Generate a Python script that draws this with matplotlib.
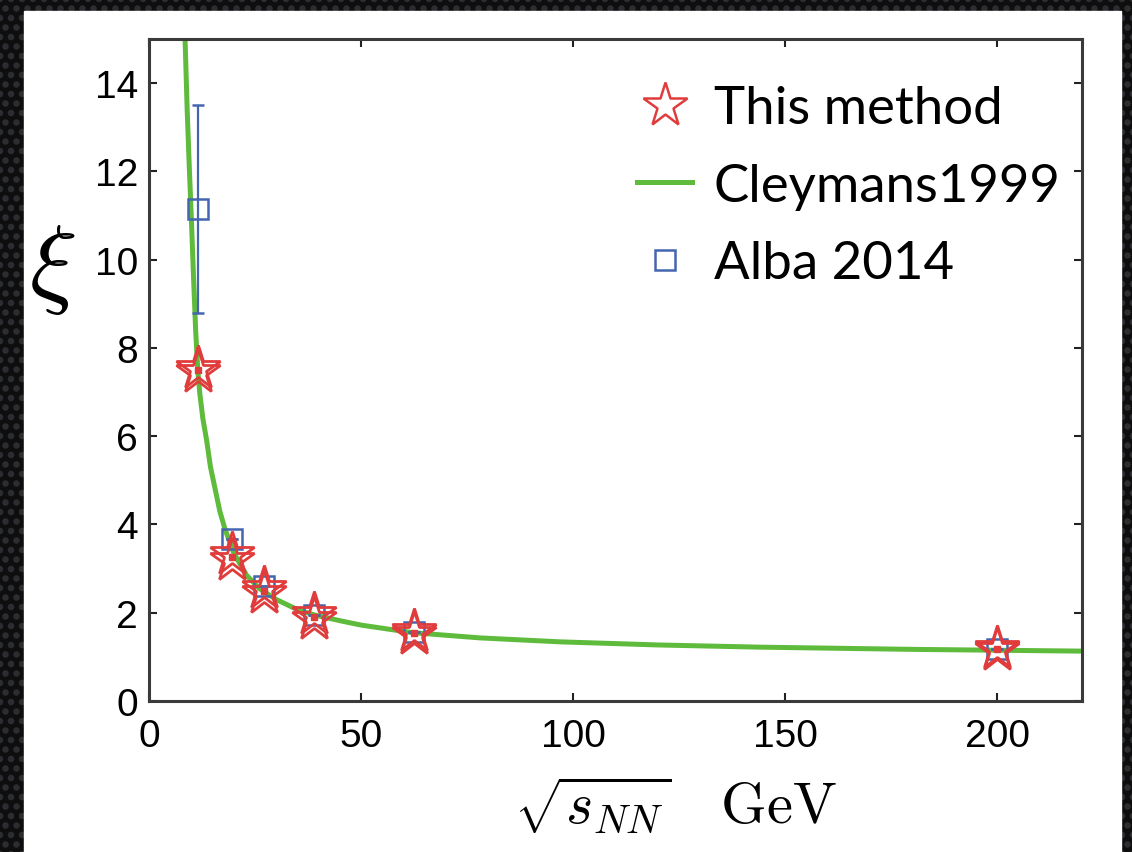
import numpy as np
import matplotlib.pyplot as plt
from matplotlib.lines import Line2D
from matplotlib.patches import Rectangle

plt.rcParams['mathtext.fontset'] = 'cm'

# collision energies (GeV) and extracted xi
energy = [11.5, 19.6, 27.0, 39.0, 62.4, 200.0]
xi_upper = [7.55, 3.33, 2.55, 1.96, 1.59, 1.21]
xi_lower = [7.45, 3.20, 2.44, 1.86, 1.51, 1.15]

# Alba 2014 points
alba_xi = [11.15, 3.68, 2.60, 1.95, 1.57, 1.18]
alba_err = [2.35, 0.0, 0.0, 0.0, 0.0, 0.0]

# Cleymans 1999 curve
cley_x = [8.5, 9.0, 9.5, 10.0, 10.5, 11.0, 11.5, 12.0, 12.7, 13.6, 14.5, 15.6,
          16.7, 17.9, 20.0, 23.0, 26.0, 30.0, 35.0, 39.0, 45.0, 50.0, 62.0,
          78.0, 97.0, 120.0, 144.0, 180.0, 220.0]
cley_y = [15.0, 13.4, 12.1, 10.9, 9.6, 8.4, 7.5, 6.95, 6.4, 5.9, 5.3, 4.8,
          4.3, 3.9, 3.35, 2.85, 2.55, 2.3, 2.07, 1.95, 1.82, 1.72, 1.55,
          1.43, 1.34, 1.27, 1.22, 1.17, 1.13]

red = '#e03c3c'
blue = '#4466b0'
green = '#5fbb3c'

W, H = 1132, 853
fig = plt.figure(figsize=(W / 100, H / 100), dpi=100)
fig.patch.set_facecolor('#0e0e0e')

# textured dark frame with a white panel
bg = fig.add_axes([0, 0, 1, 1], zorder=-10)
bg.set_xlim(0, W)
bg.set_ylim(H, 0)
bg.axis('off')
gx, gy = np.meshgrid(np.arange(0, W + 12, 11.0), np.arange(0, H + 12, 9.5))
gx[1::2] += 5.5
bg.scatter(gx.ravel(), gy.ravel(), s=22, color='#2c2d30', edgecolors='none')
bg.add_patch(Rectangle((24, 12), 1097, H, color='white', zorder=3))

ax = fig.add_axes([149 / W, 1 - 702 / H, 933 / W, 662 / H])
ax.plot(cley_x, cley_y, color=green, lw=3.6, zorder=2)
ax.errorbar(energy, alba_xi, yerr=alba_err, fmt='s', ms=15, mfc='none',
            mec=blue, mew=1.8, ecolor=blue, elinewidth=1.6, capsize=4,
            capthick=1.6, zorder=3)
ax.plot(energy, xi_upper, '*', ms=33, mfc='none', mec=red, mew=2.0, zorder=4)
ax.plot(energy, xi_lower, '*', ms=33, mfc='none', mec=red, mew=2.0, zorder=4)
ax.plot(energy, [(a + b) / 2 for a, b in zip(xi_upper, xi_lower)], 's',
        ms=4, color=red, zorder=5)

ax.set_xlim(0, 220)
ax.set_ylim(0, 15)
ax.set_xticks([0, 50, 100, 150, 200])
ax.set_yticks([0, 2, 4, 6, 8, 10, 12, 14])
ax.tick_params(direction='in', length=6, width=1.5, top=True, right=True,
               labelsize=28, pad=8, colors='#222222')
ax.tick_params(axis='x', pad=12)
for sp in ax.spines.values():
    sp.set_linewidth(2.2)
    sp.set_color('#3a3a3a')
for lab in ax.get_xticklabels() + ax.get_yticklabels():
    lab.set_family('Liberation Sans')
    lab.set_color('black')

ax.set_ylabel(r'$\xi$', fontsize=72, rotation=0, va='center', ha='center')
ax.yaxis.set_label_coords(-0.104, 0.655)
ax.set_xlabel(r'$\sqrt{s_{NN}}\quad\mathrm{GeV}$', fontsize=42)
ax.xaxis.set_label_coords(0.564, -0.156)
ax.xaxis.label.set_va('center')

handles = [
    Line2D([], [], ls='none', marker='*', ms=33, mfc='none', mec=red, mew=1.8),
    Line2D([], [], color=green, lw=3.6),
    Line2D([], [], ls='none', marker='s', ms=15, mfc='none', mec=blue, mew=1.8),
]
ax.legend(handles, ['This method', 'Cleymans1999', 'Alba 2014'],
          loc='upper left', bbox_to_anchor=(637 / W, 1 - 86 / H),
          bbox_transform=fig.transFigure, frameon=False,
          prop={'family': 'Lato', 'size': 38},
          handlelength=1.05, handletextpad=0.4, labelspacing=0.58,
          borderpad=0, borderaxespad=0)

plt.savefig('out.png', dpi=100, facecolor=fig.get_facecolor())
